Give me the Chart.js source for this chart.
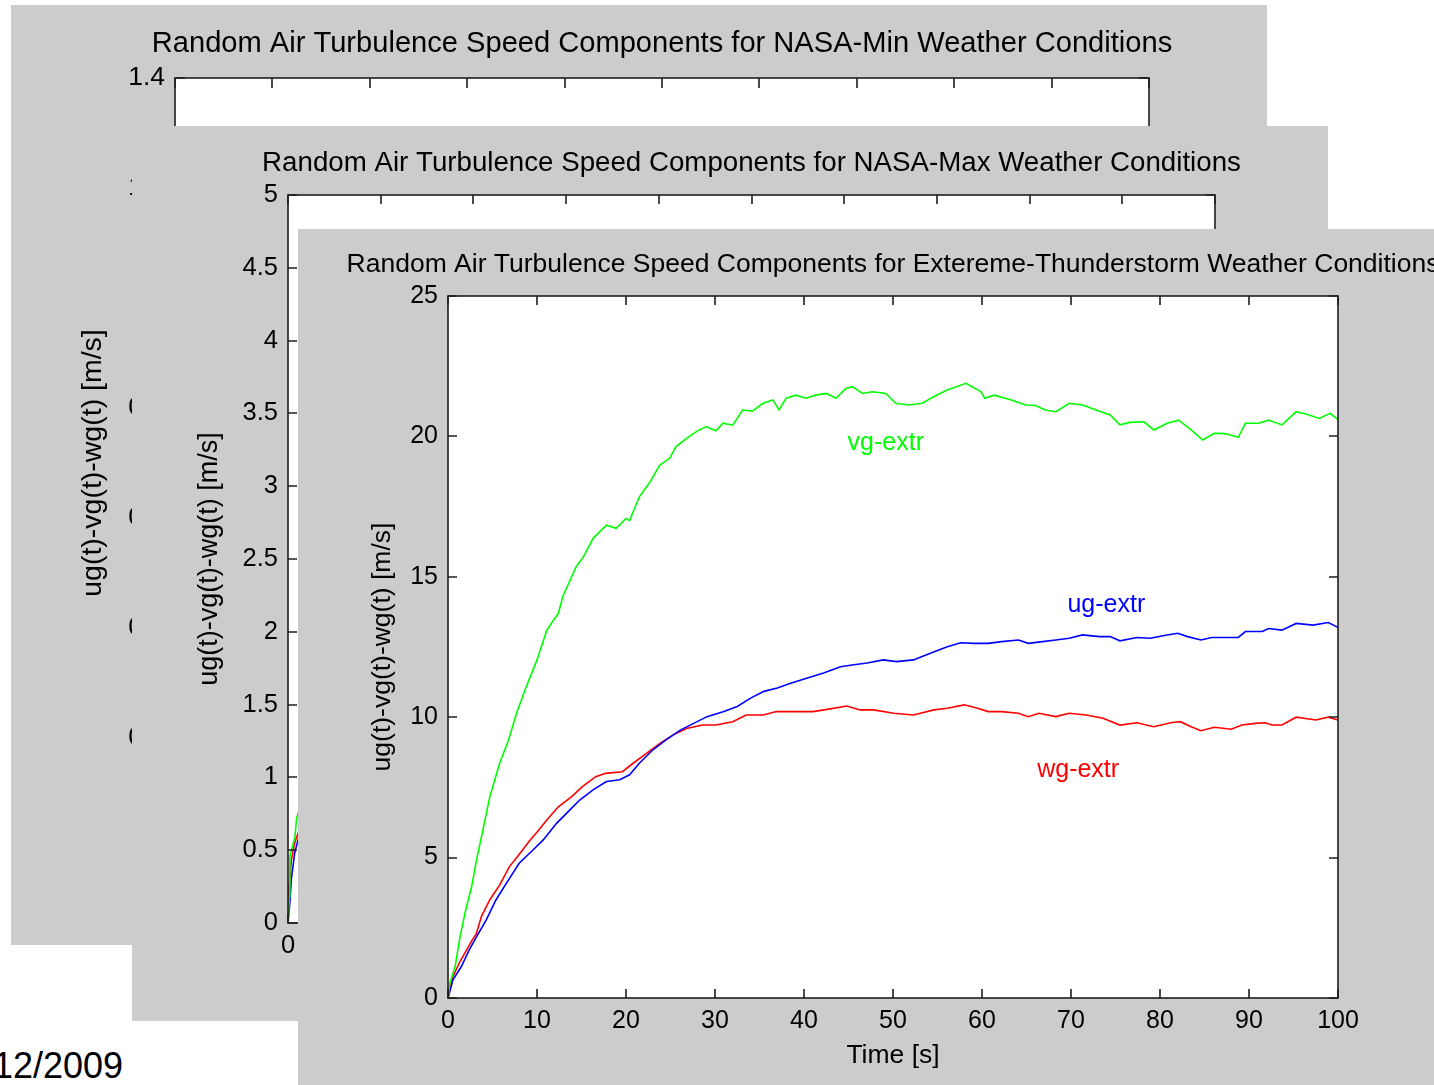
<!DOCTYPE html>
<html lang="en">
<head>
<meta charset="UTF-8" />
<title>Random Air Turbulence Speed Components</title>
<script src="https://cdn.jsdelivr.net/npm/chart.js"></script>
<style>
  html, body { margin: 0; padding: 0; background: #fff; }
  body { position: relative; width: 1434px; height: 1085px; overflow: hidden; font-family: "Liberation Sans", Arial, sans-serif; }
  .fig { position: absolute; background: #cccccc; overflow: hidden; }
  .fig canvas { display: block; }
  #date { position: absolute; left: -7px; top: 1048px; font-size: 36px; line-height: 36px; color: #000; }
</style>
</head>
<body>

<div id="date">12/2009</div>

<div class="fig" style="left:11px; top:5px; width:1256px; height:940px; z-index:1;">
  <canvas id="minChart" width="1256" height="940"></canvas>
</div>
<div class="fig" style="left:132px; top:126px; width:1196px; height:895px; z-index:2;">
  <canvas id="maxChart" width="1196" height="895"></canvas>
</div>
<div class="fig" style="left:298px; top:229px; width:1136px; height:856px; z-index:3;">
  <canvas id="extrChart" width="1136" height="856"></canvas>
</div>

<script>
    // Extreme thunderstorm run: time [s] and speed components [m/s]
    const vgTime = [0, 0.2, 0.8, 1.35, 1.9, 2.65, 3.2, 4.0, 4.7, 5.8, 6.8, 7.7, 8.8, 10.0, 11.1, 12.4, 12.9, 14.4, 15.2, 16.3,
        17.8, 18.9, 20.0, 20.4, 21.5, 22.6, 23.8, 24.9, 25.6, 26.8, 27.9, 29.0, 30.1, 30.9, 32.0, 33.1, 34.2, 35.4, 36.5, 37.2,
        38.0, 39.1, 40.2, 41.3, 42.5, 43.6, 44.7, 45.4, 46.6, 47.7, 49.2, 50.3, 51.8, 53.3, 54.6, 56.1, 58.2, 59.9, 60.3, 61.4,
        63.3, 64.9, 66.0, 67.1, 68.3, 69.8, 71.3, 72.8, 74.4, 75.5, 76.6, 78.2, 79.3, 80.8, 82.1, 83.5, 84.8, 86.1, 87.3, 88.8,
        89.6, 91.1, 92.2, 93.7, 95.3, 96.4, 97.9, 99.1, 100];
    const vgExtr = [0, 0.52, 1.12, 2.18, 3.01, 3.96, 4.91, 6.1, 7.17, 8.36, 9.19, 10.14, 11.09, 12.04, 13.1, 13.7, 14.3, 15.36, 15.7, 16.37,
        16.84, 16.73, 17.08, 17.0, 17.85, 18.33, 18.98, 19.22, 19.63, 19.93, 20.17, 20.35, 20.2, 20.47, 20.4, 20.94, 20.9, 21.18, 21.3, 20.94,
        21.36, 21.47, 21.36, 21.47, 21.53, 21.36, 21.71, 21.77, 21.53, 21.59, 21.53, 21.18, 21.12, 21.18, 21.42, 21.65, 21.89, 21.59, 21.36, 21.47,
        21.3, 21.12, 21.1, 20.94, 20.88, 21.18, 21.12, 20.94, 20.76, 20.41, 20.5, 20.52, 20.23, 20.47, 20.58, 20.23, 19.87, 20.11, 20.1, 19.97,
        20.47, 20.47, 20.58, 20.41, 20.88, 20.8, 20.64, 20.82, 20.6];

    const ugTime = [0, 0.56, 1.5, 2.4, 3.2, 4.3, 5.4, 6.55, 8.0, 9.55, 10.7, 12.2, 13.7, 14.8, 16.3, 17.8, 19.3, 20.4, 21.5, 23.0,
        24.5, 26.1, 27.6, 29.1, 31.0, 32.5, 34.0, 35.5, 37.0, 38.5, 40.3, 42.2, 44.1, 45.6, 47.1, 48.9, 50.4, 52.3, 54.2, 56.1,
        57.6, 59.1, 60.7, 62.2, 64.1, 65.2, 66.8, 68.3, 69.8, 71.3, 73.2, 74.4, 75.5, 77.4, 78.9, 80.8, 82.0, 83.1, 84.6, 85.8,
        88.8, 89.6, 91.5, 92.2, 93.7, 95.3, 97.2, 98.9, 100];
    const ugExtr = [0, 0.65, 1.12, 1.72, 2.18, 2.78, 3.5, 4.08, 4.8, 5.27, 5.63, 6.22, 6.7, 7.05, 7.41, 7.71, 7.77, 7.95, 8.36, 8.83,
        9.19, 9.54, 9.78, 10.02, 10.2, 10.38, 10.68, 10.92, 11.04, 11.21, 11.39, 11.57, 11.8, 11.87, 11.93, 12.04, 11.98, 12.04, 12.28, 12.51,
        12.65, 12.63, 12.63, 12.69, 12.75, 12.63, 12.69, 12.75, 12.81, 12.93, 12.87, 12.87, 12.72, 12.84, 12.81, 12.93, 12.99, 12.87, 12.75, 12.84,
        12.84, 13.05, 13.05, 13.16, 13.1, 13.34, 13.28, 13.37, 13.2];

    const wgTime = [0, 0.56, 1.35, 2.6, 3.2, 3.75, 4.7, 5.8, 6.9, 7.8, 9.1, 10.2, 11.1, 12.4, 13.9, 15.1, 16.6, 17.7, 19.6, 20.8,
        22.3, 23.8, 25.3, 26.8, 28.6, 30.1, 32.0, 33.5, 35.4, 36.9, 38.0, 39.6, 41.0, 42.6, 44.8, 46.3, 47.8, 50.1, 52.3, 54.6,
        56.1, 58.0, 59.5, 60.7, 62.2, 64.1, 65.2, 66.4, 68.3, 69.8, 71.7, 73.6, 75.5, 77.4, 79.3, 81.2, 82.3, 83.5, 84.6, 86.1,
        88.0, 89.2, 90.7, 91.8, 92.6, 93.7, 95.3, 97.5, 98.9, 100];
    const wgExtr = [0, 0.77, 1.3, 2.0, 2.3, 2.9, 3.5, 4.02, 4.68, 5.03, 5.57, 5.98, 6.34, 6.81, 7.17, 7.53, 7.88, 8.0, 8.06, 8.36,
        8.71, 9.07, 9.37, 9.6, 9.72, 9.72, 9.84, 10.08, 10.08, 10.2, 10.2, 10.2, 10.2, 10.28, 10.4, 10.26, 10.26, 10.14, 10.08, 10.26,
        10.32, 10.44, 10.32, 10.2, 10.2, 10.14, 10.02, 10.14, 10.02, 10.14, 10.08, 9.96, 9.72, 9.8, 9.66, 9.8, 9.84, 9.66, 9.52, 9.64,
        9.57, 9.72, 9.78, 9.8, 9.72, 9.72, 10.0, 9.9, 10.0, 9.9];

    // NASA-Max run, first second of the record
    const vgMaxTime = [0, 0.14, 0.2, 0.75, 0.93, 1.3];
    const vgMax = [0, 0.18, 0.46, 0.59, 0.72, 0.8];
    const ugMaxTime = [0, 0.2, 0.36, 0.72, 1.0, 1.3];
    const ugMax = [0, 0.14, 0.3, 0.48, 0.55, 0.62];
    const wgMaxTime = [0, 0.02, 0.36, 0.72, 1.0, 1.3];
    const wgMax = [0, 0.18, 0.43, 0.55, 0.6, 0.65];

    // Axis ticks
    const timeTicks = [0, 10, 20, 30, 40, 50, 60, 70, 80, 90, 100];
    const minTicks = [0, 0.2, 0.4, 0.6, 0.8, 1, 1.2, 1.4];
    const maxTicks = [0, 0.5, 1, 1.5, 2, 2.5, 3, 3.5, 4, 4.5, 5];
    const extrTicks = [0, 5, 10, 15, 20, 25];

    const FONT = '"Liberation Sans", Arial, sans-serif';
    const Y_LABEL = 'ug(t)-vg(t)-wg(t) [m/s]';

    function toPoints(t, v) {
        return t.map((x, i) => ({ x: x, y: v[i] }));
    }

    function series(t, v, color) {
        return { data: toPoints(t, v), borderColor: color, borderWidth: 1.6, pointRadius: 0, tension: 0, fill: false };
    }

    // White axes box, inward tick marks, title and axis labels, MATLAB style
    const matlabAxes = {
        id: 'matlabAxes',
        beforeDraw(chart) {
            const { ctx, chartArea: a } = chart;
            ctx.save();
            ctx.fillStyle = '#ffffff';
            ctx.fillRect(a.left, a.top, a.right - a.left, a.bottom - a.top);
            ctx.restore();
        },
        afterDatasetsDraw(chart, args, opts) {
            const { ctx, chartArea: a, scales } = chart;
            const len = opts.tickLength;
            ctx.save();
            ctx.strokeStyle = '#1e1e1e';
            ctx.lineWidth = 1.6;
            ctx.beginPath();
            scales.x.ticks.forEach(t => {
                const px = Math.round(scales.x.getPixelForValue(t.value));
                ctx.moveTo(px, a.bottom); ctx.lineTo(px, a.bottom - len);
                ctx.moveTo(px, a.top); ctx.lineTo(px, a.top + len);
            });
            scales.y.ticks.forEach(t => {
                const py = Math.round(scales.y.getPixelForValue(t.value));
                ctx.moveTo(a.left, py); ctx.lineTo(a.left + len, py);
                ctx.moveTo(a.right, py); ctx.lineTo(a.right - len, py);
            });
            ctx.stroke();
            ctx.strokeRect(a.left, a.top, a.right - a.left, a.bottom - a.top);

            // curve labels placed in data coordinates
            (opts.curveLabels || []).forEach(l => {
                ctx.font = opts.tickSize + 'px ' + FONT;
                ctx.fillStyle = l.color;
                ctx.textAlign = 'left';
                ctx.textBaseline = 'middle';
                ctx.fillText(l.text, scales.x.getPixelForValue(l.t), scales.y.getPixelForValue(l.v));
            });

            ctx.fillStyle = '#000';
            ctx.textAlign = 'center';
            ctx.textBaseline = 'middle';
            ctx.font = opts.titleSize + 'px ' + FONT;
            ctx.fillText(opts.title, (a.left + a.right) / 2, a.top - opts.titleGap);

            ctx.font = opts.labelSize + 'px ' + FONT;
            ctx.fillText('Time [s]', (a.left + a.right) / 2, a.bottom + opts.xLabelGap);

            ctx.translate(a.left - opts.yLabelGap, (a.top + a.bottom) / 2);
            ctx.rotate(-Math.PI / 2);
            ctx.fillText(Y_LABEL, 0, 0);
            ctx.restore();
        }
    };

    function makeFigure(canvasId, s) {
        const ctx = document.getElementById(canvasId).getContext('2d');
        const tickFont = { family: FONT, size: s.tickSize };
        return new Chart(ctx, {
            type: 'line',
            data: { datasets: s.datasets },
            plugins: [matlabAxes],
            options: {
                responsive: false,
                animation: false,
                layout: { padding: s.padding },
                plugins: {
                    legend: { display: false },
                    tooltip: { enabled: false },
                    matlabAxes: {
                        title: s.title, titleSize: s.titleSize, labelSize: s.labelSize, tickSize: s.tickSize,
                        titleGap: s.titleGap, xLabelGap: s.xLabelGap, yLabelGap: s.yLabelGap,
                        tickLength: s.tickLength, curveLabels: s.curveLabels
                    }
                },
                scales: {
                    x: {
                        type: 'linear', min: 0, max: 100,
                        grid: { display: false, drawTicks: false },
                        border: { display: false },
                        afterBuildTicks: scale => { scale.ticks = timeTicks.map(v => ({ value: v })); },
                        afterFit: scale => { scale.height = 60; },
                        ticks: { font: tickFont, color: '#000', padding: 8, maxRotation: 0, autoSkip: false, callback: v => String(v) }
                    },
                    y: {
                        type: 'linear', min: s.yMin, max: s.yMax,
                        grid: { display: false, drawTicks: false },
                        border: { display: false },
                        afterBuildTicks: scale => { scale.ticks = s.yTicks.map(v => ({ value: v })); },
                        afterFit: scale => { scale.width = 100; },
                        ticks: { font: tickFont, color: '#000', padding: 10, autoSkip: false, callback: v => String(v) }
                    }
                }
            }
        });
    }

    // NASA-Min figure (back)
    makeFigure('minChart', {
        datasets: [],
        yMin: 0, yMax: 1.4, yTicks: minTicks,
        padding: { left: 64, top: 73, right: 118, bottom: 37 },
        title: 'Random Air Turbulence Speed Components for NASA-Min Weather Conditions',
        titleSize: 29.1, tickSize: 26.5, labelSize: 28.5,
        titleGap: 34, xLabelGap: 62, yLabelGap: 82, tickLength: 10
    });

    // NASA-Max figure (middle)
    makeFigure('maxChart', {
        datasets: [
            series(vgMaxTime, vgMax, '#00ff00'),
            series(ugMaxTime, ugMax, '#0000ff'),
            series(wgMaxTime, wgMax, '#ff0000')
        ],
        yMin: 0, yMax: 5, yTicks: maxTicks,
        padding: { left: 56, top: 69, right: 113, bottom: 38 },
        title: 'Random Air Turbulence Speed Components for NASA-Max Weather Conditions',
        titleSize: 27.7, tickSize: 25.5, labelSize: 27,
        titleGap: 32, xLabelGap: 60, yLabelGap: 78, tickLength: 9
    });

    // Extreme thunderstorm figure (front)
    makeFigure('extrChart', {
        datasets: [
            series(vgTime, vgExtr, '#00ff00'),
            series(ugTime, ugExtr, '#0000ff'),
            series(wgTime, wgExtr, '#ff0000')
        ],
        yMin: 0, yMax: 25, yTicks: extrTicks,
        padding: { left: 50, top: 67, right: 96, bottom: 27 },
        title: 'Random Air Turbulence Speed Components for Extereme-Thunderstorm Weather Conditions',
        titleSize: 26.5, tickSize: 25, labelSize: 26.5,
        titleGap: 31, xLabelGap: 58, yLabelGap: 65, tickLength: 9,
        curveLabels: [
            { text: 'vg-extr', t: 44.9, v: 19.77, color: '#00ff00' },
            { text: 'ug-extr', t: 69.6, v: 14.0, color: '#0000ff' },
            { text: 'wg-extr', t: 66.2, v: 8.12, color: '#ff0000' }
        ]
    });
</script>

</body>
</html>
